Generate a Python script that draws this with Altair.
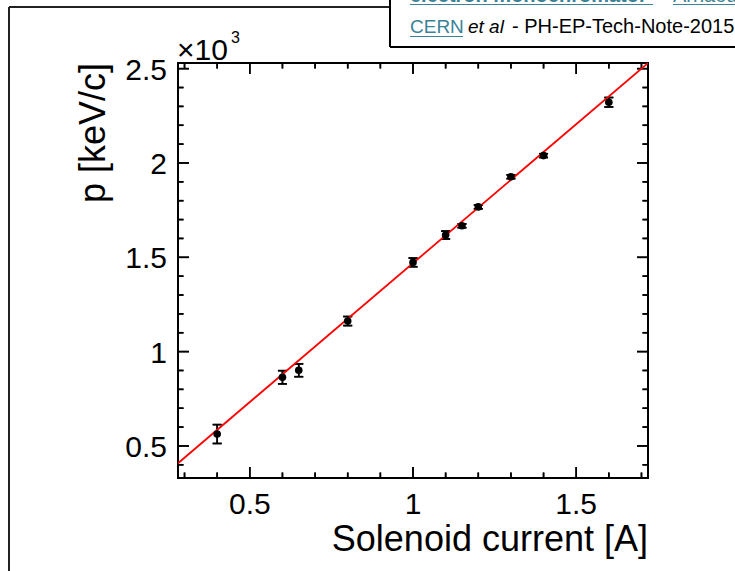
import altair as alt
import pandas as pd

# Measured electron momentum versus solenoid current
current_A = [0.4, 0.6, 0.65, 0.8, 1.0, 1.1, 1.15, 1.2, 1.3, 1.4, 1.6]
momentum = [563, 864, 901, 1162, 1473, 1618, 1667, 1767, 1927, 2039, 2322]  # keV/c
momentum_err = [50, 35, 34, 24, 23, 21, 10, 10, 10, 10, 25]  # keV/c

# Linear calibration  p = slope * I + offset
fit_slope = 1473.0   # keV/c per A
fit_offset = -4.0    # keV/c

x_domain = [0.28, 1.72]
y_domain = [330, 2530]

x_major = [0.5, 1.0, 1.5]
x_labels = ["0.5", "1", "1.5"]
x_minor = [0.3, 0.4, 0.6, 0.7, 0.8, 0.9, 1.1, 1.2, 1.3, 1.4, 1.6, 1.7]
y_major = [500, 1000, 1500, 2000, 2500]
y_labels = ["0.5", "1", "1.5", "2", "2.5"]   # in units of 10^3 keV/c
y_minor = [400, 600, 700, 800, 900, 1100, 1200, 1300, 1400, 1600, 1700,
           1800, 1900, 2100, 2200, 2300, 2400]

x_title = "Solenoid current [A]"
y_title = "p [keV/c]"
y_multiplier = ["\u00d710", "3"]

caption_line1 = ["electron monochromator", "-", "Arnaoudon"]
caption_line2 = ["CERN", "et al", "- PH-EP-Tech-Note-2015"]

FONT = "Liberation Sans"
LINK = "#3b8297"
W, H = 470, 415          # plot area
MAJOR, MINOR = 11, 5.5   # inward tick lengths in pixels
CAP = 9                  # error-bar cap width in pixels
LINE_W = 1.6

df = pd.DataFrame({"I": current_A, "p": momentum, "err": momentum_err})
df["lo"] = df["p"] - df["err"]
df["hi"] = df["p"] + df["err"]

fit_df = pd.DataFrame({"I": x_domain})
fit_df["p"] = fit_slope * fit_df["I"] + fit_offset

xs = alt.Scale(domain=x_domain, nice=False, zero=False)
ys = alt.Scale(domain=y_domain, nice=False, zero=False)

# pixel -> data conversion for tick and cap lengths
kx = (x_domain[1] - x_domain[0]) / W
ky = (y_domain[1] - y_domain[0]) / H

# every straight black segment of the frame ticks and error bars
segments = []
for values, length in ((x_major, MAJOR), (x_minor, MINOR)):
    for v in values:
        segments.append((v, v, y_domain[0], y_domain[0] + length * ky))
        segments.append((v, v, y_domain[1], y_domain[1] - length * ky))
for values, length in ((y_major, MAJOR), (y_minor, MINOR)):
    for v in values:
        segments.append((x_domain[0], x_domain[0] + length * kx, v, v))
        segments.append((x_domain[1], x_domain[1] - length * kx, v, v))
for i, lo, hi in zip(df["I"], df["lo"], df["hi"]):
    segments.append((i, i, lo, hi))
    half = 0.5 * CAP * kx
    segments.append((i - half, i + half, lo, lo))
    segments.append((i - half, i + half, hi, hi))
seg_df = pd.DataFrame(segments, columns=["sx", "sx2", "sy", "sy2"])


def X(field):
    return alt.X(field, scale=xs, axis=None)


def Y(field):
    return alt.Y(field, scale=ys, axis=None)


segment_marks = alt.Chart(seg_df).mark_rule(
    color="black", strokeWidth=LINE_W).encode(
    x=X("sx:Q"), x2="sx2:Q", y=Y("sy:Q"), y2="sy2:Q")


def x_frame_ticks(values, length):
    rows = []
    for v in values:
        rows.append({"tx": v, "ty": y_domain[0] + 0.5 * length * ky})
        rows.append({"tx": v, "ty": y_domain[1] - 0.5 * length * ky})
    return alt.Chart(pd.DataFrame(rows)).mark_tick(
        orient="vertical", size=length, thickness=LINE_W, color="black", opacity=1,
    ).encode(x=X("tx:Q"), y=Y("ty:Q"))


def y_frame_ticks(values, length):
    rows = []
    for v in values:
        rows.append({"ux": x_domain[0] + 0.5 * length * kx, "uy": v})
        rows.append({"ux": x_domain[1] - 0.5 * length * kx, "uy": v})
    return alt.Chart(pd.DataFrame(rows)).mark_tick(
        orient="horizontal", size=length, thickness=LINE_W, color="black", opacity=1,
    ).encode(x=X("ux:Q"), y=Y("uy:Q"))


frame_ticks = [
    x_frame_ticks(x_major, MAJOR), x_frame_ticks(x_minor, MINOR),
    y_frame_ticks(y_major, MAJOR), y_frame_ticks(y_minor, MINOR),
]

# tick labels placed through the same scales
x_tick_labels = alt.Chart(pd.DataFrame({"lx": x_major, "lt": x_labels})).mark_text(
    align="center", baseline="top", font=FONT, fontSize=30, color="black",
).encode(x=X("lx:Q"), y=alt.value(H + 12), text="lt:N")

y_tick_labels = alt.Chart(pd.DataFrame({"ly": y_major, "lt": y_labels})).mark_text(
    align="right", baseline="middle", font=FONT, fontSize=30, color="black", dy=2,
).encode(y=Y("ly:Q"), x=alt.value(-11), text="lt:N")

# error bars with end caps
bars = alt.Chart(df).mark_rule(color="black", strokeWidth=LINE_W).encode(
    x=X("I:Q"), y=Y("lo:Q"), y2="hi:Q",
)
cap_lo = alt.Chart(df).mark_tick(orient="horizontal", size=CAP, thickness=LINE_W,
                                 color="black", opacity=1).encode(
    x=X("I:Q"), y=Y("lo:Q"),
)
cap_hi = alt.Chart(df).mark_tick(orient="horizontal", size=CAP, thickness=LINE_W,
                                 color="black", opacity=1).encode(
    x=X("I:Q"), y=Y("hi:Q"),
)

fit = alt.Chart(fit_df).mark_line(color="#ff0000", strokeWidth=1.8, clip=True).encode(
    x=X("I:Q"), y=Y("p:Q"),
)

points = alt.Chart(df).mark_circle(size=58, color="black", opacity=1).encode(
    x=X("I:Q"), y=Y("p:Q"),
)


def text_at(s, x, y, size, color="black", weight="normal", style="normal",
            align="left", angle=0):
    return alt.Chart(pd.DataFrame({"t": [s]})).mark_text(
        align=align, baseline="alphabetic", font=FONT, fontSize=size,
        fontWeight=weight, fontStyle=style, color=color, angle=angle,
    ).encode(text="t:N", x=alt.value(x), y=alt.value(y))


def hline(x, x2, y, color="black", width=2.0):
    return alt.Chart(pd.DataFrame({"k": [0]})).mark_rule(
        color=color, strokeWidth=width).encode(
        x=alt.value(x), x2=alt.value(x2), y=alt.value(y))


def vline(x, y, y2, color="black", width=2.0):
    return alt.Chart(pd.DataFrame({"k": [0]})).mark_rule(
        color=color, strokeWidth=width).encode(
        x=alt.value(x), y=alt.value(y), y2=alt.value(y2))


# axis titles and the exponent of the y axis
titles = [
    text_at(x_title, W, H + 73, 36, align="right"),
    text_at(y_title, -73, 0, 36, align="right", angle=270),
    text_at(y_multiplier[0], -1, -3, 30),
    text_at(y_multiplier[1], 53, -20, 16),
]

# page frame and reference caption box (pixel positions relative to the plot origin)
frame = [
    hline(-169, 212, -56, color="#222222"),
    vline(-169, -56, 508, color="#222222"),
    vline(212, -63, -16),
    hline(212, 557, -16),
]
caption = [
    text_at(caption_line1[0], 232, -61, 20, color=LINK, weight="bold"),
    hline(232, 475, -58.5, color=LINK, width=1.2),
    text_at(caption_line1[1], 480, -61, 20),
    text_at(caption_line1[2], 495, -61, 20, color=LINK),
    hline(495, 557, -58.5, color=LINK, width=1.2),
    text_at(caption_line2[0], 232, -30, 19, color=LINK),
    hline(232, 285, -26.5, color=LINK, width=1.2),
    text_at(caption_line2[1], 290, -30, 19, style="italic"),
    text_at(caption_line2[2], 334, -30, 20),
]

chart = alt.layer(
    segment_marks, *frame_ticks, bars, cap_lo, cap_hi, fit, points,
    x_tick_labels, y_tick_labels, *titles, *frame, *caption
).properties(
    width=W, height=H,
    padding={"left": 178, "top": 63, "right": 87, "bottom": 93},
    autosize=alt.AutoSizeParams(type="none"),
    background="white",
).configure_view(
    stroke="black", strokeWidth=2
)

chart.save("out.html", embed_options={"renderer": "svg", "actions": False})
